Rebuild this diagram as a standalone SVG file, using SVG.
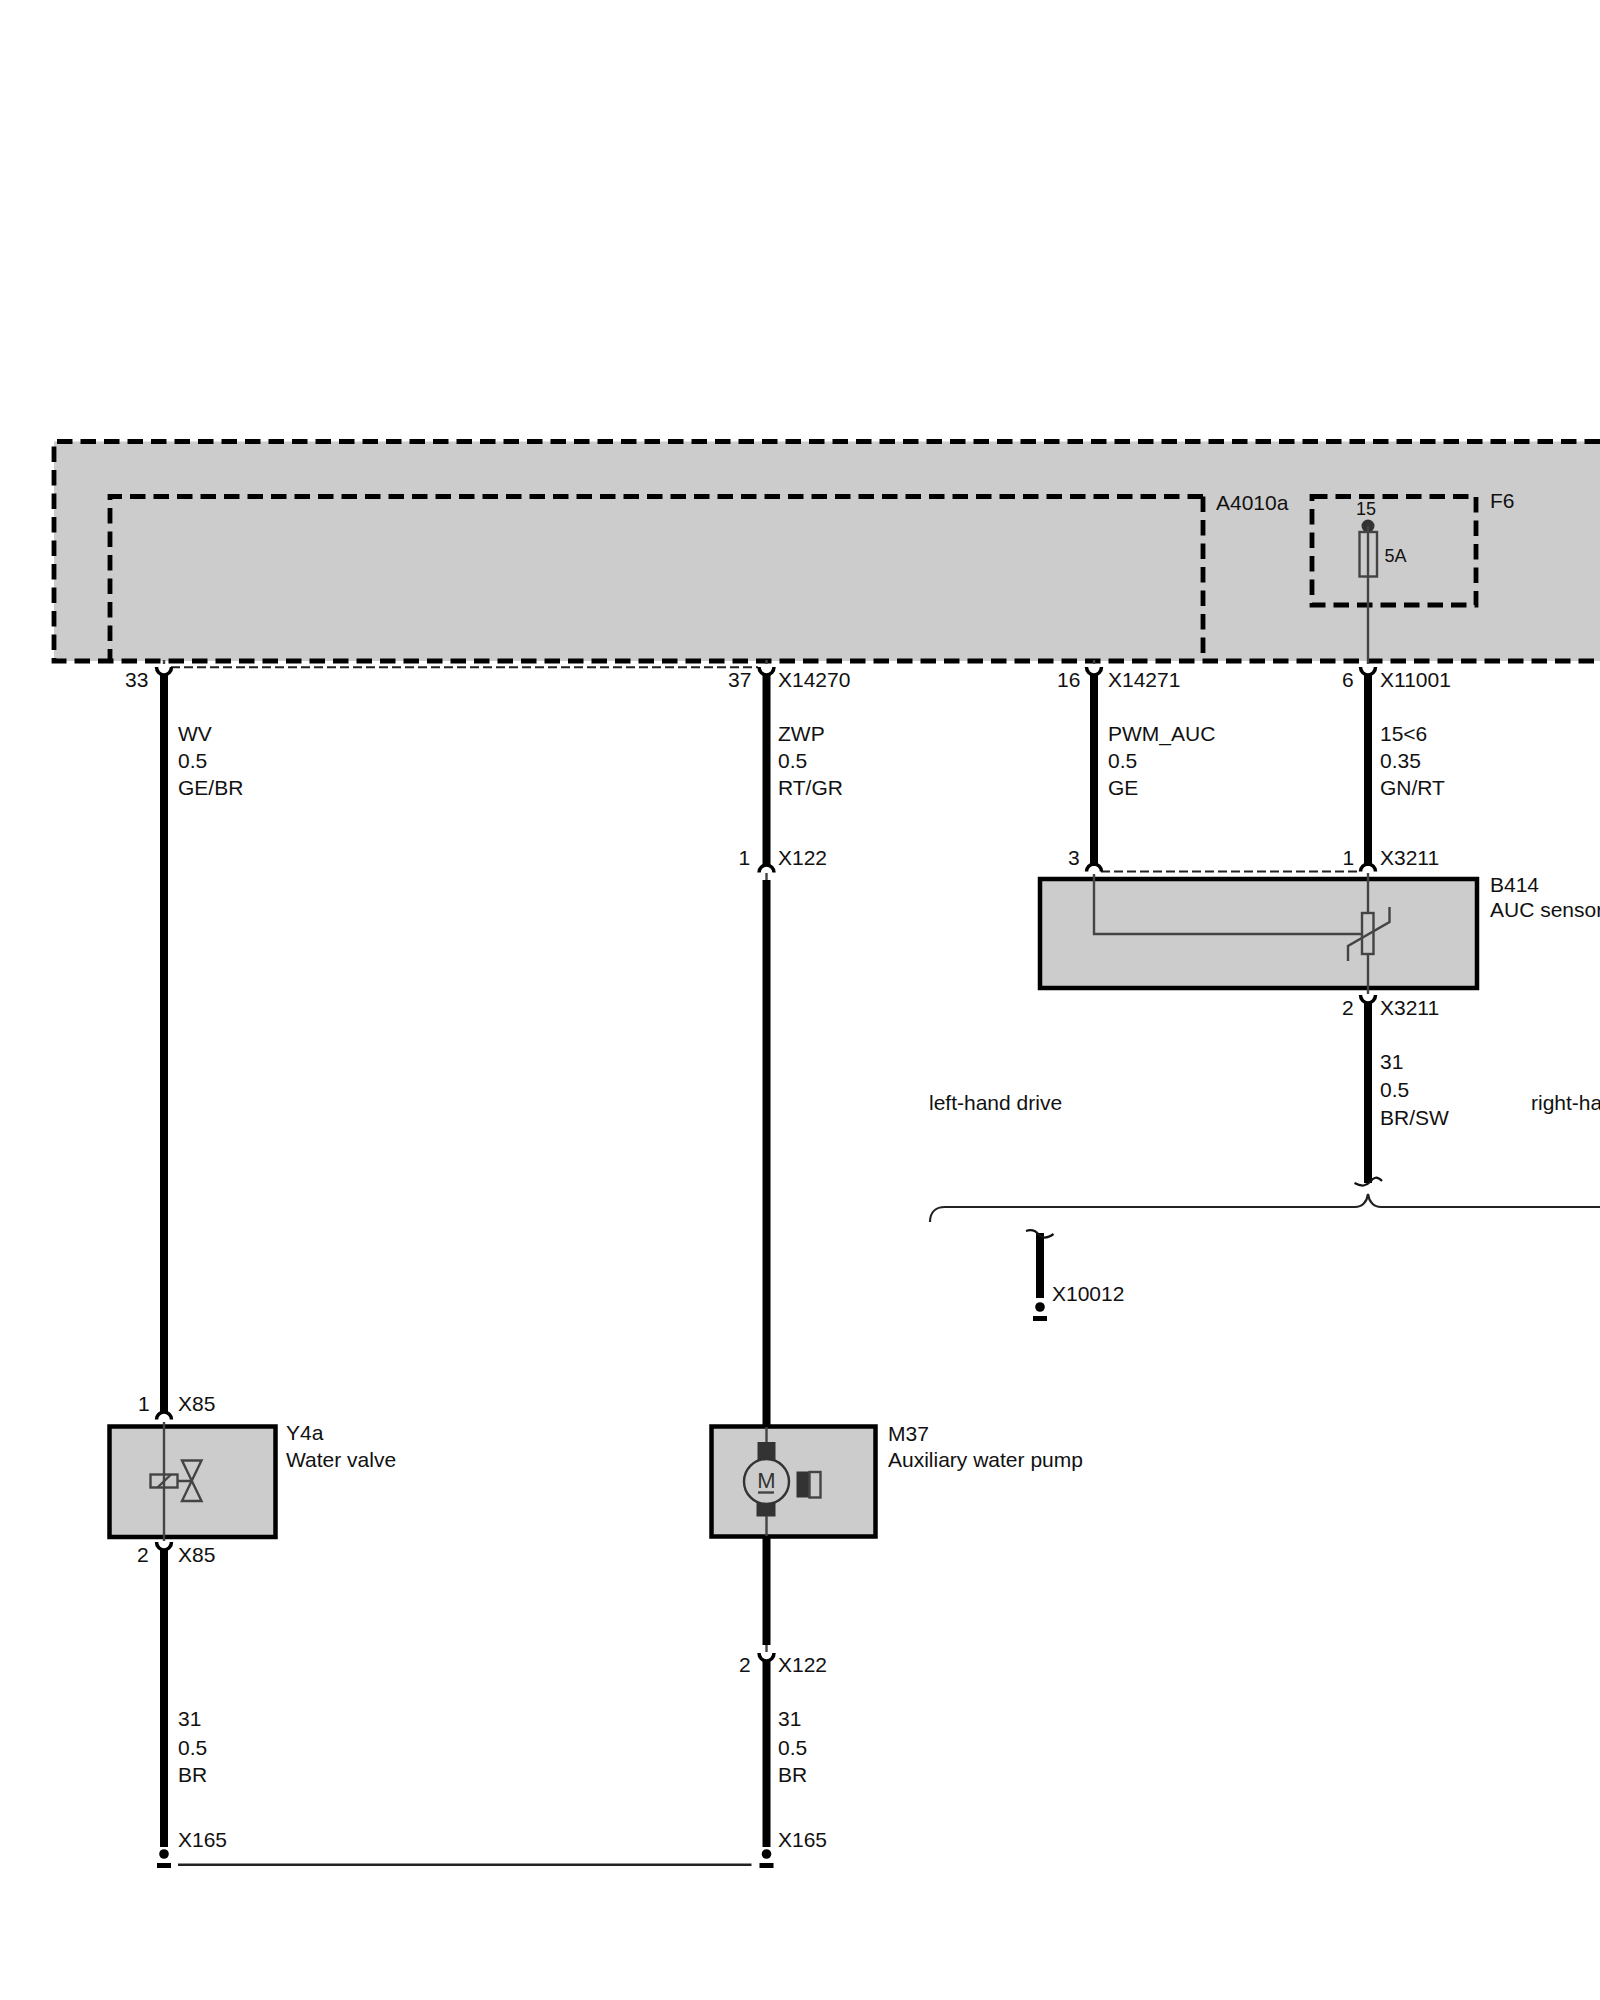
<svg xmlns="http://www.w3.org/2000/svg" width="1600" height="2000" viewBox="0 0 1600 2000">
<style>
text{font-family:"Liberation Sans",Arial,sans-serif;font-size:21px;fill:#111}
.s{font-size:18px}
.dash{fill:none;stroke:#000;stroke-width:4.8;stroke-dasharray:15.5 8}
.thin{fill:none;stroke:#444;stroke-width:2.4}
.wire{fill:none;stroke:#000;stroke-width:8}
.pin{fill:none;stroke:#000;stroke-width:3.5}
.tdash{fill:none;stroke:#222;stroke-width:2;stroke-dasharray:9 4}
.box{fill:#ccc;stroke:#000;stroke-width:4.5}
.dk{fill:#333;stroke:none}
.sym{fill:none;stroke:#444;stroke-width:2.4}
</style>
<defs>
<path id="cup" class="pin" d="M-7.5,0A7.5,8 0 0 0 7.5,0"/>
<path id="dome" class="pin" d="M-7.5,6.5A7.5,7.5 0 0 1 7.5,6.5"/>
<g id="gnd"><circle cx="0" cy="0" r="4.8" fill="#000"/><rect x="-7" y="9" width="14" height="5" fill="#000"/></g>
</defs>
<rect width="1600" height="2000" fill="#fff"/>
<g id="A4010">
<path d="M1600,441.5H54V661H1600" fill="#ccc" stroke="none"/>
<path class="dash" d="M1600,441.5H54V661H1600"/>
</g>
<g id="A4010a">
<path class="dash" d="M1203,496.5H110V661M1203,496.5V661"/>
<text x="1216" y="510">A4010a</text>
</g>
<g id="F6">
<rect class="dash" x="1312" y="496.5" width="164" height="108.5"/>
<text x="1490" y="508">F6</text>
<text class="s" x="1356" y="515">15</text>
<circle cx="1368" cy="526" r="6.5" fill="#333"/>
<rect class="sym" x="1359.5" y="532" width="17.5" height="44.5"/>
<text class="s" x="1384.5" y="562">5A</text>
</g>
<g id="B414">
<rect class="box" x="1040" y="879" width="437" height="109"/>
<path class="thin" d="M1094,874V934H1362"/>
<rect class="sym" x="1362" y="913" width="11.5" height="41"/>
<path class="sym" d="M1348,961V946L1389.5,922V907"/>
<text x="1490" y="892">B414</text>
<text x="1490" y="917">AUC sensor</text>
</g>
<g id="Y4a">
<rect class="box" x="109.5" y="1426.5" width="166" height="110.5"/>
<rect class="sym" x="150.5" y="1474.5" width="27" height="13"/>
<path class="sym" d="M157.5,1487.5L171,1474.5M177.5,1481H191.5M182,1460.5H201.5L182,1501H201.5Z"/>
<text x="286" y="1440">Y4a</text>
<text x="286" y="1467">Water valve</text>
</g>
<g id="M37">
<rect class="box" x="711.5" y="1426.5" width="164" height="110"/>
<rect class="dk" x="757.5" y="1442" width="18" height="20"/>
<rect class="dk" x="756.5" y="1502.5" width="19" height="14"/>
<circle cx="766.5" cy="1481.5" r="22.5" fill="#ccc" stroke="#333" stroke-width="2.4"/>
<text x="766.5" y="1488" text-anchor="middle" style="font-size:22px;fill:#333">M</text>
<path class="sym" d="M758,1492.5H774"/>
<rect class="dk" x="796.5" y="1471.5" width="13" height="26"/>
<rect class="sym" x="809.5" y="1472" width="11" height="25.5"/>
<text x="888" y="1441">M37</text>
<text x="888" y="1467">Auxiliary water pump</text>
</g>
<g id="connectors">
<path class="wire" d="M164,675V1413M164,1549V1847M766.5,675V866M766.5,880V1428M766.5,1536V1645M766.5,1660V1847M1094,675V866M1368,675V866M1368,1003V1183M1040,1233V1298"/>
<path class="thin" d="M164,660V664M164,1422V1541M766.5,660V664M766.5,873V880M766.5,1427V1442M766.5,1516V1536M766.5,1645V1652M1094,660V664M1368,526V664M1368,873V913M1368,954V994"/>
<path class="tdash" d="M171,667.3H758M1101,871.5H1361"/>
<use href="#cup" x="164" y="667"/><use href="#cup" x="766.5" y="667"/><use href="#cup" x="1094" y="667"/><use href="#cup" x="1368" y="667"/>
<use href="#dome" x="766.5" y="866"/><use href="#dome" x="1094" y="865"/><use href="#dome" x="1368" y="865"/><use href="#dome" x="164" y="1413"/>
<use href="#cup" x="1368" y="995"/><use href="#cup" x="164" y="1542"/><use href="#cup" x="766.5" y="1653"/>
<use href="#gnd" x="164" y="1854"/><use href="#gnd" x="766.5" y="1854"/><use href="#gnd" x="1040" y="1307"/>
<path d="M178,1864.7H751.5" fill="none" stroke="#222" stroke-width="2.5"/>
<path fill="none" stroke="#111" stroke-width="2.2" d="M1354.5,1183C1362,1187 1366,1186 1370,1182C1374,1177 1377,1176 1382,1181"/>
<path fill="none" stroke="#111" stroke-width="2.2" d="M1026,1231C1032,1229 1036,1231 1039,1235C1043,1239 1048,1238 1053.5,1234"/>
<path fill="none" stroke="#222" stroke-width="2.2" d="M930,1222C930,1212 936,1207 945,1207H1355C1362,1207 1367,1202 1368,1194C1369,1202 1374,1207 1381,1207H1600"/>
</g>
<g id="labels">
<text x="125" y="687">33</text><text x="728" y="687">37</text><text x="778" y="687">X14270</text>
<text x="1057" y="687">16</text><text x="1108" y="687">X14271</text>
<text x="1342" y="687">6</text><text x="1380" y="687">X11001</text>
<text x="178" y="741">WV</text><text x="178" y="768">0.5</text><text x="178" y="795">GE/BR</text>
<text x="778" y="741">ZWP</text><text x="778" y="768">0.5</text><text x="778" y="795">RT/GR</text>
<text x="1108" y="741">PWM_AUC</text><text x="1108" y="768">0.5</text><text x="1108" y="795">GE</text>
<text x="1380" y="741">15&lt;6</text><text x="1380" y="768">0.35</text><text x="1380" y="795">GN/RT</text>
<text x="738.5" y="865">1</text><text x="778" y="865">X122</text>
<text x="1068" y="865">3</text><text x="1342.5" y="865">1</text><text x="1380" y="865">X3211</text>
<text x="1342" y="1015">2</text><text x="1380" y="1015">X3211</text>
<text x="1380" y="1069">31</text><text x="1380" y="1097">0.5</text><text x="1380" y="1125">BR/SW</text>
<text x="929" y="1110">left-hand drive</text><text x="1531" y="1110">right-hand drive</text>
<text x="1052" y="1301">X10012</text>
<text x="138" y="1411">1</text><text x="178" y="1411">X85</text>
<text x="137" y="1562">2</text><text x="178" y="1562">X85</text>
<text x="739" y="1672">2</text><text x="778" y="1672">X122</text>
<text x="178" y="1726">31</text><text x="178" y="1755">0.5</text><text x="178" y="1782">BR</text><text x="178" y="1847">X165</text>
<text x="778" y="1726">31</text><text x="778" y="1755">0.5</text><text x="778" y="1782">BR</text><text x="778" y="1847">X165</text>
</g>
</svg>
